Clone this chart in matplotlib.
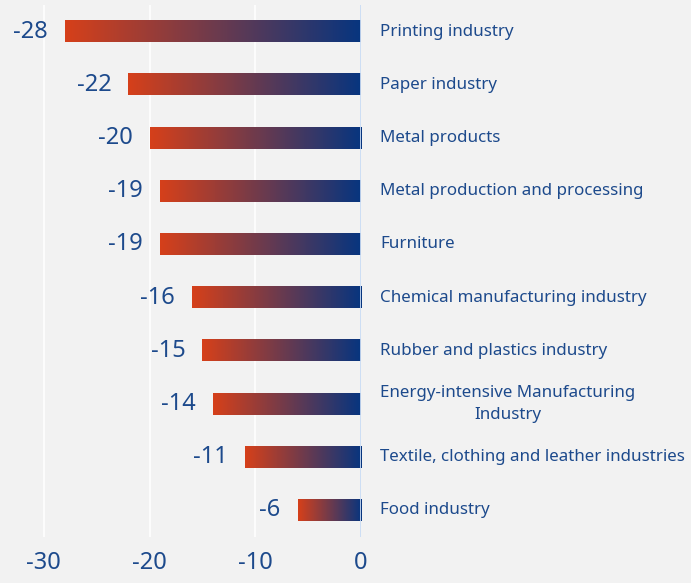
import numpy as np
import matplotlib.pyplot as plt
from matplotlib.colors import LinearSegmentedColormap

categories = ['Printing industry', 'Paper industry', 'Metal products',
              'Metal production and processing', 'Furniture',
              'Chemical manufacturing industry', 'Rubber and plastics industry',
              'Energy-intensive Manufacturing\nIndustry',
              'Textile, clothing and leather industries', 'Food industry']
values = [-28, -22, -20, -19, -19, -16, -15, -14, -11, -6]
xticks = [-30, -20, -10, 0]

plt.rcParams['font.family'] = ['Noto Sans', 'DejaVu Sans']
plt.rcParams['axes.unicode_minus'] = False

text_color = '#1d4a8c'
bg = '#f2f2f2'
cmap = LinearSegmentedColormap.from_list('grad', ['#d6401a', '#07357f'])

fig = plt.figure(figsize=(6.91, 5.83), dpi=100, facecolor=bg)
ax = fig.add_axes([0, 0.0789, 361 / 691, 0.9125], facecolor=bg)

n = len(values)
for x in xticks[:-1]:
    ax.axvline(x, color='white', lw=1.2, zorder=0)
ax.axvline(0, color='#c9dcf5', lw=2, zorder=3)

grad = np.linspace(0, 1, 256).reshape(1, -1)
h = 0.4
for i, (cat, v) in enumerate(zip(categories, values)):
    ax.imshow(grad, cmap=cmap, aspect='auto', extent=(v, 0, i + h / 2, i - h / 2), zorder=2)
    ax.text(v - 1.6, i, str(v), ha='right', va='center', fontsize=17, color=text_color)
    ax.text(1.8, i, cat, ha='left', va='center', fontsize=12.2, color=text_color,
            multialignment='center', clip_on=False, linespacing=1.45)

ax.set_xlim(-34.15, 0)
ax.set_ylim(n - 0.5, -0.5)
ax.set_xticks(xticks)
ax.set_xticklabels([str(t) for t in xticks], fontsize=17, color=text_color)
ax.tick_params(axis='x', length=0, pad=10)
ax.set_yticks([])
for s in ax.spines.values():
    s.set_visible(False)

fig.savefig('out.png', dpi=100, facecolor=bg)
